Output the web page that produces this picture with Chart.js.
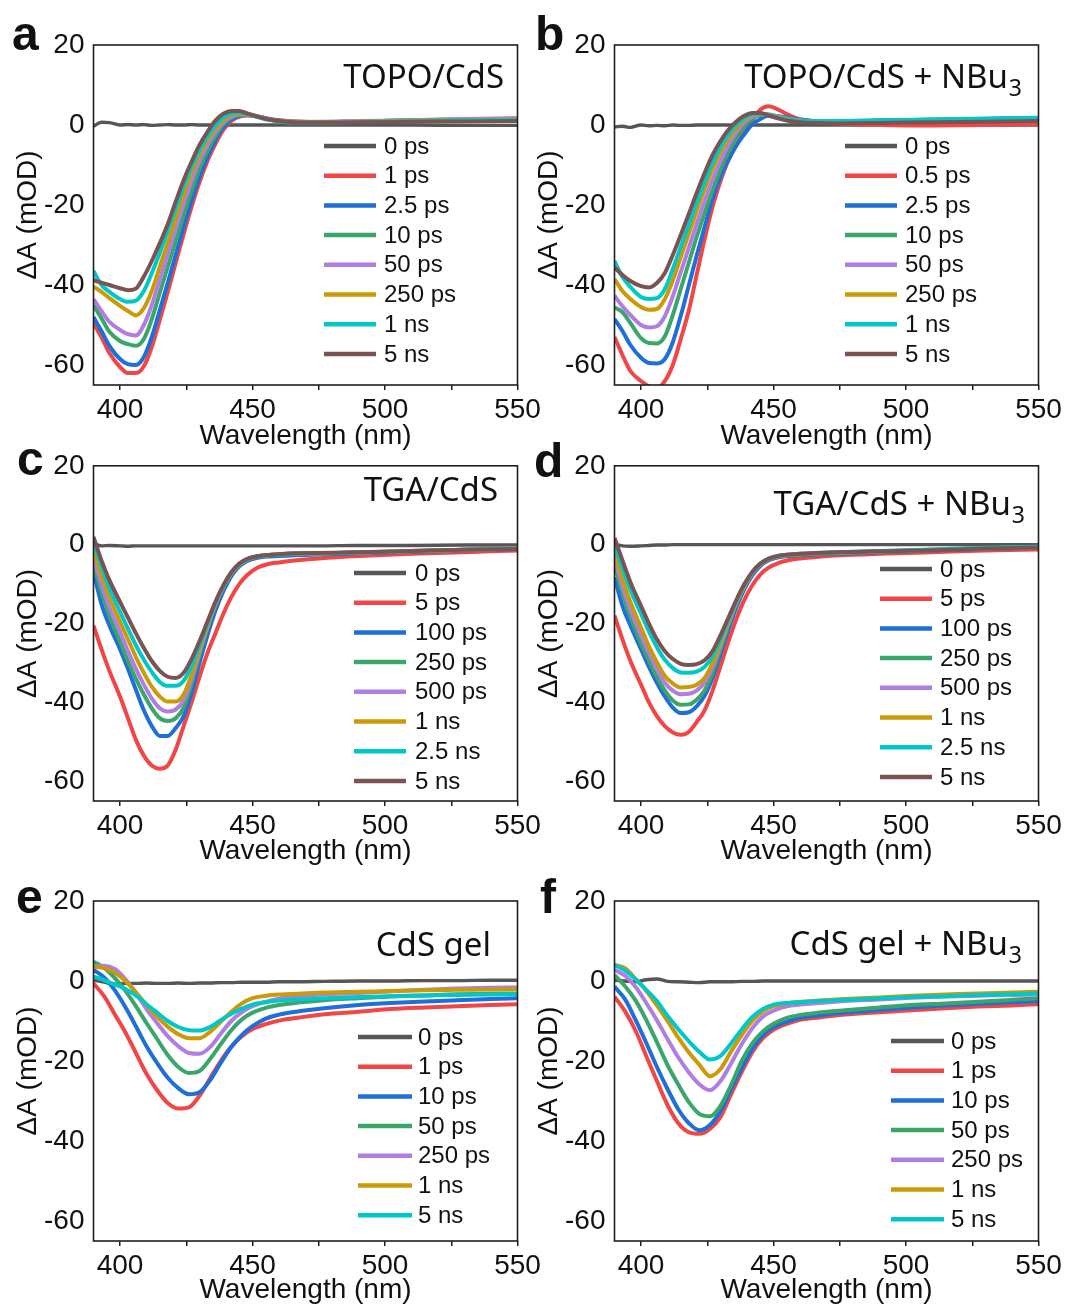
<!DOCTYPE html>
<html>
<head>
<meta charset="utf-8">
<script src="https://cdn.jsdelivr.net/npm/chart.js@4.4.1/dist/chart.umd.min.js"></script>
<style>
  html, body { margin: 0; padding: 0; background: #fff; }
  #page { position: relative; width: 1066px; height: 1306px; overflow: hidden; background: #fff; }
  #page canvas { position: absolute; }
</style>
</head>
<body>
<div id="page">
  <canvas id="pa" width="545" height="455" style="left:0px;top:0px"></canvas>
  <canvas id="pb" width="541" height="455" style="left:525px;top:0px"></canvas>
  <canvas id="pc" width="545" height="435" style="left:0px;top:440px"></canvas>
  <canvas id="pd" width="541" height="435" style="left:525px;top:440px"></canvas>
  <canvas id="pe" width="545" height="431" style="left:0px;top:875px"></canvas>
  <canvas id="pf" width="541" height="431" style="left:525px;top:875px"></canvas>
</div>
<script>
// ---- wavelength grids (nm) ----
var wlCdS = [390, 393, 396, 400, 403, 406, 409, 412, 415, 418, 421, 424, 427, 430, 433, 436, 439, 442, 445, 448, 452, 456, 460, 466, 475, 490, 510, 530, 550];
var wlGel = [390, 394, 398, 402, 406, 410, 414, 418, 422, 426, 430, 434, 438, 442, 446, 450, 455, 460, 467, 477, 490, 502, 515, 527, 540, 550];

// ---- legend labels ----
var labelsA = ['0 ps', '1 ps', '2.5 ps', '10 ps', '50 ps', '250 ps', '1 ns', '5 ns'];
var labelsB = ['0 ps', '0.5 ps', '2.5 ps', '10 ps', '50 ps', '250 ps', '1 ns', '5 ns'];
var labelsTGA = ['0 ps', '5 ps', '100 ps', '250 ps', '500 ps', '1 ns', '2.5 ns', '5 ns'];
var labelsGel = ['0 ps', '1 ps', '10 ps', '50 ps', '250 ps', '1 ns', '5 ns'];

// ---- a: TOPO/CdS (mOD) ----
var a_0ps   = [-0.3, 0.7, 0.6, 0, 0.1, 0, 0.1, -0.1, 0, 0.1, 0, 0, 0.1, 0, 0, 0, 0, 0, 0, 0, 0, 0, 0, 0, 0, 0, 0, -0.1, -0.1];
var a_1ps   = [-49.6, -53, -57, -60.5, -62, -62, -60.3, -55.5, -48.8, -41.8, -34.5, -27.3, -20.5, -14.3, -9, -4.7, -1.2, 1.0, 2.1, 2.4, 2.1, 1.6, 1.2, 0.9, 0.7, 0.8, 1.0, 1.1, 1.2];
var a_2p5ps = [-48, -51.5, -55.2, -58.5, -59.8, -60, -58, -53, -46.3, -39.5, -32.5, -25.5, -19, -13, -8, -3.8, -0.5, 1.4, 2.3, 2.5, 2.1, 1.5, 1.1, 0.8, 0.7, 0.9, 1.1, 1.3, 1.5];
var a_10ps  = [-45, -48.3, -51.7, -54, -54.8, -55.2, -53.5, -48.5, -42, -35.5, -29, -22.5, -16.5, -11, -6.5, -2.8, 0.2, 1.8, 2.5, 2.6, 2.1, 1.4, 1.0, 0.8, 0.7, 0.9, 1.2, 1.4, 1.6];
var a_50ps  = [-43.5, -46.5, -49.2, -51.2, -52.3, -52.6, -50, -45, -38.7, -32.3, -26, -19.8, -14, -9, -5, -1.8, 0.7, 2.1, 2.7, 2.6, 2.1, 1.4, 1.0, 0.8, 0.8, 1.0, 1.2, 1.5, 1.7];
var a_250ps = [-40.4, -41.7, -43.3, -45.2, -46.5, -47.6, -45.8, -41.5, -35.5, -29.5, -23.5, -17.5, -12, -7.5, -3.8, -1, 1.2, 2.5, 2.9, 2.7, 2.1, 1.4, 1.0, 0.8, 0.7, 0.9, 1.1, 1.3, 1.4];
var a_1ns   = [-36.5, -40, -41.7, -43.5, -44.2, -43.9, -41.5, -37, -32, -26.5, -21, -15.4, -10.5, -6.3, -2.9, -0.2, 1.9, 2.9, 3.1, 2.7, 2.0, 1.3, 0.9, 0.6, 0.6, 0.8, 1.0, 1.2, 1.3];
var a_5ns   = [-38.8, -39.4, -40, -40.8, -41.3, -40.9, -37.9, -34, -29.6, -24.8, -19.2, -13.8, -9.2, -5, -1.7, 1.1, 2.8, 3.5, 3.5, 2.9, 2.1, 1.4, 1.0, 0.7, 0.6, 0.7, 0.8, 0.9, 1.0];

// ---- b: TOPO/CdS + NBu3 ----
var b_0ps   = [-0.5, -0.3, -0.6, 0, -0.2, -0.1, -0.2, 0, -0.1, -0.1, 0, 0, 0, 0, 0, 0, 0, 0, 0, 0, 0, 0, 0, 0, 0, 0, 0, 0, 0];
var b_0p5ps = [-53, -57.5, -61.5, -64, -65.3, -65.8, -64, -60, -53.5, -46.5, -37.5, -28.5, -20.4, -14, -8.8, -5, -1.5, 1.3, 3.8, 4.7, 3.8, 2.4, 1.4, 0.8, 0.3, 0, -0.1, 0, 0.2];
var b_2p5ps = [-48.5, -51.5, -55, -58.2, -59.5, -59.6, -58.5, -54.3, -47.7, -40.2, -32.7, -25.5, -18.5, -12.9, -8.6, -5.1, -2.3, 0.2, 1.5, 2.3, 2.2, 1.8, 1.4, 1.0, 0.9, 1.1, 1.3, 1.5, 1.7];
var b_10ps  = [-45.6, -46.8, -49.5, -53.3, -54.5, -54.6, -52.8, -47.5, -41, -34.5, -28, -22, -16.3, -11.2, -6.8, -3.2, -0.3, 1.6, 2.5, 2.6, 2.1, 1.6, 1.2, 1.0, 0.9, 1.1, 1.3, 1.5, 1.7];
var b_50ps  = [-42.7, -45.3, -47.5, -50, -50.6, -50.3, -47.8, -42.8, -36.8, -30.8, -24.8, -19, -13.6, -9, -5, -1.8, 0.7, 2.1, 2.7, 2.6, 2.0, 1.5, 1.1, 0.9, 0.9, 1.1, 1.3, 1.5, 1.7];
var b_250ps = [-38.5, -41.5, -43.5, -45.5, -46.2, -46, -43.5, -38.8, -33, -27.3, -21.5, -16, -11, -6.8, -3.5, -0.8, 1.3, 2.4, 2.8, 2.5, 1.9, 1.4, 1.0, 0.9, 0.8, 1.0, 1.2, 1.4, 1.6];
var b_1ns   = [-34, -38, -40.5, -43, -43.5, -43.3, -41, -36, -30.5, -25, -19.5, -14.3, -9.5, -5.5, -2.4, 0, 1.8, 2.7, 2.9, 2.5, 1.8, 1.3, 1.0, 1.0, 1.0, 1.2, 1.4, 1.6, 1.8];
var b_5ns   = [-35.6, -37.5, -39, -40.3, -40.6, -39.5, -37, -32.5, -27.5, -22.3, -17, -12, -7.5, -4, -1.2, 0.9, 2.3, 3.0, 3.0, 2.4, 1.6, 1.0, 0.7, 0.5, 0.4, 0.5, 0.7, 0.8, 1.0];

// ---- c: TGA/CdS ----
var c_0ps   = [0.3, -0.3, -0.2, -0.3, -0.4, -0.3, -0.3, -0.3, -0.3, -0.3, -0.3, -0.3, -0.3, -0.3, -0.3, -0.3, -0.3, -0.3, -0.3, -0.3, -0.3, -0.3, -0.3, -0.3, -0.3, -0.2, -0.2, -0.1, -0.1];
var c_5ps   = [-20.5, -26.5, -32, -38.5, -44, -49.5, -53.5, -56, -56.8, -56, -52, -46, -40, -33.5, -27.5, -22.5, -17.5, -13.3, -10, -7.7, -5.8, -4.9, -4.5, -4.0, -3.5, -2.9, -2.3, -1.9, -1.5];
var c_100ps = [-7, -15, -20.5, -26.5, -31.5, -36.8, -42, -46, -48.5, -48.5, -46.5, -43.5, -37.5, -30, -23, -16.8, -11.8, -8, -5.5, -4.1, -3.3, -3.0, -2.9, -2.7, -2.5, -2.2, -1.8, -1.4, -1.1];
var c_250ps = [-4.6, -12, -18, -24.5, -29.5, -34, -38, -41.5, -44, -44.7, -44, -41.3, -35.3, -28, -21.3, -15.4, -10.8, -7.4, -5.1, -3.8, -3.0, -2.7, -2.5, -2.4, -2.3, -2.0, -1.7, -1.3, -1.0];
var c_500ps = [-3, -10, -15.8, -22, -27, -31.5, -35.5, -39, -41.5, -42.3, -41.8, -39.5, -34, -27.2, -20.9, -15.2, -10.7, -7.3, -5, -3.8, -2.9, -2.6, -2.4, -2.3, -2.2, -2.0, -1.6, -1.3, -1.0];
var c_1ns   = [-1.3, -7.8, -13.3, -19.5, -24, -28.5, -32.5, -36, -38.5, -39.8, -39.8, -38, -33, -26.5, -20.5, -15, -10.6, -7.2, -5, -3.7, -2.9, -2.6, -2.4, -2.3, -2.2, -2.0, -1.6, -1.3, -1.0];
var c_2p5ns = [0.8, -5.5, -11, -17, -21.3, -25.5, -29.2, -32.3, -34.8, -35.8, -35.8, -34.5, -30.8, -25.5, -20, -14.8, -10.5, -7.1, -4.9, -3.7, -2.9, -2.6, -2.5, -2.3, -2.2, -2.0, -1.6, -1.3, -1.0];
var c_5ns   = [2, -4, -9, -14.5, -18.5, -22.5, -26.2, -29.5, -32, -33.5, -33.8, -32.5, -29, -24.5, -19.5, -14.5, -10.3, -7, -4.8, -3.6, -2.9, -2.6, -2.4, -2.2, -2.1, -1.9, -1.6, -1.3, -1.1];

// ---- d: TGA/CdS + NBu3 ----
var d_0ps   = [0.2, -0.3, -0.4, -0.3, -0.2, -0.1, -0.1, 0, 0, 0, 0, 0, 0, 0, 0, 0, 0, 0, 0, 0, 0, 0, 0, 0, 0, 0, 0, 0, 0];
var d_5ps   = [-18, -24, -29.5, -35.5, -40, -43.5, -46, -47.6, -48.2, -47.5, -45, -42, -37, -30.8, -24.5, -18.8, -14, -10.3, -7.6, -5.9, -4.6, -3.9, -3.5, -3.1, -2.7, -2.3, -1.9, -1.5, -1.2];
var d_100ps = [-8.3, -15.5, -20.5, -26.5, -31, -35, -38.5, -41.3, -42.7, -42.5, -41, -38.3, -33.8, -27.8, -21.5, -15.9, -11.3, -7.8, -5.4, -4.0, -3.2, -2.9, -2.7, -2.5, -2.3, -1.9, -1.5, -1.1, -0.8];
var d_250ps = [-5, -12.3, -18.3, -25, -29.5, -33.5, -37, -39.5, -40.6, -40.5, -39.3, -37, -32.5, -26.5, -20.4, -15, -10.6, -7.3, -5, -3.8, -3.0, -2.7, -2.5, -2.3, -2.1, -1.8, -1.4, -1.0, -0.7];
var d_500ps = [-3.3, -10.5, -16.5, -23, -27.5, -31.5, -35, -37, -37.9, -37.8, -37, -35, -31, -25.6, -19.9, -14.8, -10.5, -7.2, -5, -3.7, -2.9, -2.6, -2.4, -2.2, -2.0, -1.7, -1.3, -0.9, -0.6];
var d_1ns   = [-1.7, -8.8, -14.5, -21, -25.8, -29.8, -33.3, -35.2, -36.2, -36.1, -35.5, -33.8, -30, -25, -19.5, -14.6, -10.4, -7.1, -4.9, -3.7, -2.9, -2.6, -2.4, -2.2, -2.0, -1.7, -1.3, -0.9, -0.6];
var d_2p5ns = [0, -6, -11.5, -17.5, -22, -26, -29.2, -31.3, -32.4, -32.5, -32.2, -31, -28.3, -24, -19, -14.3, -10.2, -7, -4.9, -3.6, -2.8, -2.5, -2.3, -2.1, -1.9, -1.6, -1.2, -0.8, -0.5];
var d_5ns   = [1.7, -4, -9.5, -15.5, -20, -24, -27, -29, -30.2, -30.5, -30.3, -29.3, -27, -23, -18.5, -14, -10, -6.9, -4.8, -3.6, -2.8, -2.5, -2.3, -2.1, -1.9, -1.7, -1.4, -1.0, -0.7];

// ---- e: CdS gel ----
var e_0ps   = [0.2, -0.3, -0.8, -0.6, -0.6, -0.5, -0.6, -0.6, -0.5, -0.6, -0.5, -0.5, -0.4, -0.4, -0.3, -0.3, -0.3, -0.2, -0.2, -0.1, 0, 0, 0.1, 0.1, 0.2, 0.2];
var e_1ps   = [-0.6, -3.8, -8.3, -12.8, -18, -23.2, -27.3, -30.5, -31.9, -31.6, -28.7, -24.3, -20, -16.4, -13.8, -12, -10.8, -9.9, -9.2, -8.3, -7.7, -7, -6.6, -6.3, -6, -5.8];
var e_10ps  = [2.8, 0.9, -2.3, -6.5, -11.3, -16.3, -20.5, -24.2, -26.8, -28.3, -27.8, -24.8, -20.5, -16.5, -13.5, -11.3, -9.4, -8.4, -7.6, -6.8, -6.0, -5.5, -5.1, -4.8, -4.5, -4.3];
var e_50ps  = [4.8, 3.3, 0.8, -2.4, -6.3, -10.5, -14.5, -18.5, -21.5, -23, -22.5, -19.5, -15.8, -12.3, -9.6, -7.9, -6.7, -6, -5.4, -4.8, -4.3, -3.9, -3.6, -3.3, -3.2, -3.1];
var e_250ps = [3.6, 3.8, 3, 0.5, -3, -7, -10.5, -13.8, -16.3, -18, -18.2, -16.5, -13.2, -10, -7.8, -6.3, -5.2, -4.4, -3.8, -3.3, -3.0, -2.6, -2.2, -1.9, -1.7, -1.6];
var e_1ns   = [3.6, 3.2, 2.1, 0, -2.8, -6, -8.9, -11.4, -13.3, -14.3, -14.3, -12.7, -10.2, -7.7, -5.6, -4.3, -3.7, -3.4, -3.2, -2.9, -2.7, -2.5, -2.3, -2.2, -2.1, -2.0];
var e_5ns   = [1.1, 0.2, -0.9, -2, -3.6, -5.8, -7.9, -10, -11.5, -12.3, -12.4, -11.5, -9.8, -8.2, -6.9, -5.9, -5.3, -4.9, -4.6, -4.3, -4.0, -3.8, -3.6, -3.5, -3.4, -3.3];

// ---- f: CdS gel + NBu3 ----
var f_0ps   = [0.2, 0, -0.2, 0.3, 0.5, -0.1, -0.2, -0.3, -0.4, -0.2, -0.2, -0.2, -0.1, -0.1, 0, 0, 0, 0, 0, 0, 0, 0, 0, 0, 0, 0];
var f_1ps   = [-3.9, -7.6, -12.5, -18.8, -25, -31, -35.5, -37.8, -38.2, -37, -34, -28.3, -22.8, -17.8, -14.3, -12.2, -10.7, -9.7, -9.1, -8.4, -7.8, -7.3, -6.8, -6.4, -6.1, -5.8];
var f_10ps  = [-1.4, -4.6, -9.8, -15.5, -21.5, -27, -32, -35.5, -37.3, -36, -32.5, -27, -21.8, -17, -13.6, -11.6, -10.2, -9.2, -8.6, -7.9, -7.2, -6.6, -6.1, -5.7, -5.3, -5.0];
var f_50ps  = [1.5, -1.3, -4.9, -9.8, -15.3, -21, -25.8, -30.2, -33.2, -33.8, -31.2, -26, -20, -15.6, -12.6, -10.7, -9.2, -8.5, -7.9, -7.3, -6.6, -6.0, -5.6, -5.2, -4.7, -4.3];
var f_250ps = [2.8, 1.3, -1.5, -5.5, -9.8, -14.5, -19, -22.8, -25.8, -27.3, -25, -20.6, -15.8, -11.8, -8.9, -7.4, -6.3, -5.9, -5.5, -5.0, -4.6, -4.2, -3.9, -3.7, -3.5, -3.4];
var f_1ns   = [4, 3.2, 0.5, -2.5, -6.1, -10, -14.1, -17.8, -20.9, -23.8, -22, -17.6, -13.5, -10, -7.6, -6.3, -5.6, -5.2, -4.9, -4.5, -4.1, -3.7, -3.4, -3.1, -2.9, -2.7];
var f_5ns   = [4, 2.6, 0.4, -2.2, -5, -8.7, -12, -15, -17.7, -19.6, -18.7, -15.6, -12.1, -9, -7, -5.9, -5.5, -5.3, -5.0, -4.7, -4.4, -4.0, -3.8, -3.5, -3.3, -3.1];

// ---- axis ticks ----
var xTicks = [400, 425, 450, 475, 500, 525, 550];
var yTicks = [-60, -40, -20, 0, 20];

var lineColors = ['#565656', '#f24545', '#1e6fd9', '#3aa66b', '#b07ee0', '#cc9a06', '#00c8c8', '#7c5353'];
var SANS = '"Liberation Sans", Arial, sans-serif';
var TITLE_FONT = '"Noto Sans", "Open Sans", sans-serif';

var decorPlugin = {
  id: 'decor',
  afterDraw: function(chart) {
    var o = chart.options.plugins.decor;
    var ctx = chart.ctx, a = chart.chartArea;
    var ox = o.box[0], oy = o.box[1];
    ctx.save();

    // frame around the plot
    ctx.strokeStyle = '#1e1e1e';
    ctx.lineWidth = 1.6;
    ctx.strokeRect(a.left, a.top, a.right - a.left, a.bottom - a.top);

    // axis titles
    ctx.fillStyle = '#111';
    ctx.font = '28px ' + SANS;
    ctx.textAlign = 'center';
    ctx.textBaseline = 'middle';
    ctx.fillText('Wavelength (nm)', (a.left + a.right) / 2, o.xTitleY - oy);
    ctx.save();
    ctx.translate(o.yTitleX - ox, (a.top + a.bottom) / 2);
    ctx.rotate(-Math.PI / 2);
    ctx.fillText('\u0394A (mOD)', 0, 0);
    ctx.restore();

    // panel letter
    ctx.font = 'bold 48px ' + SANS;
    ctx.textAlign = 'left';
    ctx.textBaseline = 'alphabetic';
    ctx.fillText(o.letter, o.letterPos[0] - ox, o.letterPos[1] - oy);

    // sample name, with optional subscript
    var subW = 0;
    if (o.sub) {
      ctx.font = '23px ' + TITLE_FONT;
      subW = ctx.measureText(o.sub).width;
    }
    ctx.font = '33px ' + TITLE_FONT;
    ctx.textAlign = 'right';
    ctx.fillText(o.title, o.titleRight - subW - 1 - ox, o.titleBase - oy);
    if (o.sub) {
      ctx.font = '23px ' + TITLE_FONT;
      ctx.textAlign = 'left';
      ctx.fillText(o.sub, o.titleRight - subW - ox, o.titleBase + 8 - oy);
    }

    // legend
    var lg = o.legend;
    ctx.font = '24px ' + SANS;
    ctx.textAlign = 'left';
    ctx.textBaseline = 'middle';
    chart.data.datasets.forEach(function(ds, i) {
      var y = lg[3] + i * 29.7 - oy;
      ctx.strokeStyle = ds.borderColor;
      ctx.lineWidth = 4.5;
      ctx.beginPath();
      ctx.moveTo(lg[0] - ox, y);
      ctx.lineTo(lg[1] - ox, y);
      ctx.stroke();
      ctx.fillStyle = '#111';
      ctx.fillText(ds.label, lg[2] - ox, y + 1);
    });
    ctx.restore();
  }
};

function makePanel(p) {
  var box = p.box, area = p.area;
  var n = p.series.length;
  var datasets = p.series.map(function(arr, i) {
    return {
      label: p.labels[i],
      data: p.wl.map(function(w, k) { return { x: w, y: arr[k] }; }),
      borderColor: lineColors[i],
      backgroundColor: lineColors[i],
      borderWidth: i === 0 ? 3.4 : 4,
      pointRadius: 0,
      cubicInterpolationMode: 'monotone',
      order: n - i
    };
  });

  new Chart(document.getElementById(p.id), {
    type: 'line',
    data: { datasets: datasets },
    plugins: [decorPlugin],
    options: {
      responsive: false,
      maintainAspectRatio: false,
      animation: false,
      events: [],
      layout: {
        autoPadding: false,
        padding: { left: 0, top: area[1] - box[1], right: (box[0] + box[2]) - area[2], bottom: 0 }
      },
      plugins: {
        legend: { display: false },
        tooltip: { enabled: false },
        decor: {
          box: box, letter: p.letter, letterPos: p.letterPos,
          title: p.title, sub: p.sub, titleRight: p.titleRight, titleBase: p.titleBase,
          legend: p.legend, yTitleX: p.yTitleX, xTitleY: p.xTitleY
        }
      },
      scales: {
        x: {
          type: 'linear',
          min: 390, max: 550,
          afterBuildTicks: function(scale) { scale.ticks = xTicks.map(function(v) { return { value: v }; }); },
          afterFit: function(scale) { scale.height = (box[1] + box[3]) - area[3]; },
          border: { display: false },
          grid: { display: true, drawOnChartArea: false, drawTicks: true, tickLength: 5, color: '#1e1e1e', lineWidth: 1.5 },
          ticks: {
            autoSkip: false, maxRotation: 0, padding: 3,
            color: '#111', font: { family: SANS, size: 28 },
            callback: function(v) { return v % 50 === 0 ? String(v) : ''; }
          }
        },
        y: {
          min: -65, max: 20,
          afterBuildTicks: function(scale) { scale.ticks = yTicks.map(function(v) { return { value: v }; }); },
          afterFit: function(scale) { scale.width = area[0] - box[0]; },
          border: { display: false },
          grid: { display: false, drawTicks: false },
          ticks: {
            padding: 9, color: '#111', font: { family: SANS, size: 28 },
            callback: function(v) { return String(v); }
          }
        }
      }
    }
  });
}

var panels = [
  { id: 'pa', box: [0, 0, 545, 455], area: [93.5, 45, 517.5, 385], wl: wlCdS, labels: labelsA,
    series: [a_0ps, a_1ps, a_2p5ps, a_10ps, a_50ps, a_250ps, a_1ns, a_5ns],
    letter: 'a', letterPos: [12, 50], title: 'TOPO/CdS', sub: '', titleRight: 505, titleBase: 88,
    legend: [324, 376, 384, 146], yTitleX: 28, xTitleY: 436 },
  { id: 'pb', box: [525, 0, 541, 455], area: [614.5, 45, 1038.5, 385], wl: wlCdS, labels: labelsB,
    series: [b_0ps, b_0p5ps, b_2p5ps, b_10ps, b_50ps, b_250ps, b_1ns, b_5ns],
    letter: 'b', letterPos: [535, 50], title: 'TOPO/CdS + NBu', sub: '3', titleRight: 1022, titleBase: 88,
    legend: [845, 897, 905, 146], yTitleX: 549, xTitleY: 436 },
  { id: 'pc', box: [0, 440, 545, 435], area: [93.5, 461, 517.5, 801], wl: wlCdS, labels: labelsTGA,
    series: [c_0ps, c_5ps, c_100ps, c_250ps, c_500ps, c_1ns, c_2p5ns, c_5ns],
    letter: 'c', letterPos: [17, 475], title: 'TGA/CdS', sub: '', titleRight: 499, titleBase: 501,
    legend: [354, 406, 415, 573], yTitleX: 28, xTitleY: 851 },
  { id: 'pd', box: [525, 440, 541, 435], area: [614.5, 461, 1038.5, 801], wl: wlCdS, labels: labelsTGA,
    series: [d_0ps, d_5ps, d_100ps, d_250ps, d_500ps, d_1ns, d_2p5ns, d_5ns],
    letter: 'd', letterPos: [534, 477], title: 'TGA/CdS + NBu', sub: '3', titleRight: 1025, titleBase: 515,
    legend: [880, 932, 940, 569], yTitleX: 549, xTitleY: 851 },
  { id: 'pe', box: [0, 875, 545, 431], area: [93.5, 901, 517.5, 1241], wl: wlGel, labels: labelsGel,
    series: [e_0ps, e_1ps, e_10ps, e_50ps, e_250ps, e_1ns, e_5ns],
    letter: 'e', letterPos: [16, 913], title: 'CdS gel', sub: '', titleRight: 492, titleBase: 956,
    legend: [358, 412, 418, 1037], yTitleX: 28, xTitleY: 1290 },
  { id: 'pf', box: [525, 875, 541, 431], area: [614.5, 901, 1038.5, 1241], wl: wlGel, labels: labelsGel,
    series: [f_0ps, f_1ps, f_10ps, f_50ps, f_250ps, f_1ns, f_5ns],
    letter: 'f', letterPos: [540, 913], title: 'CdS gel + NBu', sub: '3', titleRight: 1022, titleBase: 955,
    legend: [891, 944, 951, 1041], yTitleX: 549, xTitleY: 1290 }
];

panels.forEach(makePanel);
</script>
</body>
</html>
